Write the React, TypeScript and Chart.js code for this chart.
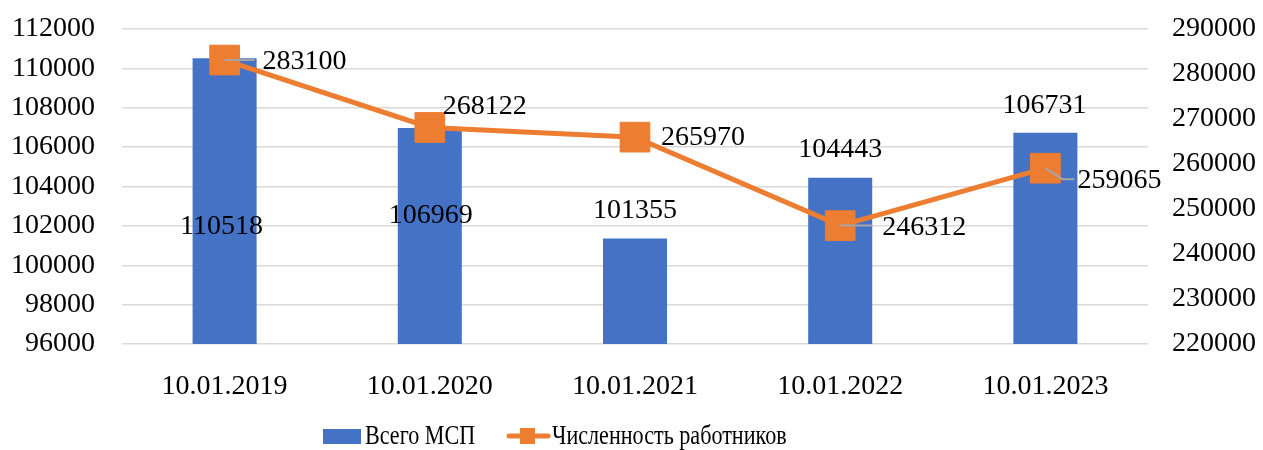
import React, { useEffect, useRef } from 'react';
import { Chart, registerables } from 'chart.js';

Chart.register(...registerables);

// ---- data ----
const categories = ['10.01.2019', '10.01.2020', '10.01.2021', '10.01.2022', '10.01.2023'];
const smeTotal = [110518, 106969, 101355, 104443, 106731];
const employees = [283100, 268122, 265970, 246312, 259065];
const leftTicks = [96000, 98000, 100000, 102000, 104000, 106000, 108000, 110000, 112000];
const rightTicks = [220000, 230000, 240000, 250000, 260000, 270000, 280000, 290000];
const seriesNames = ['Всего МСП', 'Численность работников'];

// ---- label placement (pixel offsets relative to the mark) ----
const barLabelOffsets = [[-3, 168], [1, 88], [0, -28], [0, -28], [-1, -27]];
const lineLabelOffsets = [[38, 2], [13, -21], [26, 1], [42, 2], [32, 12]];
const leaderPaths: (number[][] | null)[] = [
  [[0, 0], [30, 0]],
  null,
  null,
  [[0, 0], [32, 0]],
  [[0, 0], [17, 11], [29, 11]],
];

const FONT = "'Liberation Serif', 'Times New Roman', serif";
const BLUE = '#4472C4';
const ORANGE = '#ED7D31';
const GRID = '#d9d9d9';

const labelPlugin = {
  id: 'customLabels',
  afterDatasetsDraw(chart: any) {
    const ctx = chart.ctx;
    ctx.save();
    ctx.font = `28px ${FONT}`;
    ctx.fillStyle = '#000';
    ctx.textBaseline = 'middle';
    const barMeta = chart.getDatasetMeta(0);
    ctx.textAlign = 'center';
    barMeta.data.forEach((el: any, i: number) => {
      const [dx, dy] = barLabelOffsets[i];
      ctx.fillText(String(smeTotal[i]), el.x + dx, el.y + dy);
    });
    const lineMeta = chart.getDatasetMeta(1);
    ctx.strokeStyle = '#a5a5a5';
    ctx.lineWidth = 2;
    lineMeta.data.forEach((el: any, i: number) => {
      const path = leaderPaths[i];
      if (!path) return;
      ctx.beginPath();
      path.forEach(([px, py], k) => {
        if (k === 0) ctx.moveTo(el.x + px, el.y + py);
        else ctx.lineTo(el.x + px, el.y + py);
      });
      ctx.stroke();
    });
    ctx.textAlign = 'left';
    lineMeta.data.forEach((el: any, i: number) => {
      const [dx, dy] = lineLabelOffsets[i];
      ctx.fillText(String(employees[i]), el.x + dx, el.y + dy);
    });
    ctx.restore();
  },
};

const legendPlugin = {
  id: 'customLegend',
  afterDraw(chart: any) {
    const ctx = chart.ctx;
    const cy = 437;
    ctx.save();
    let x = 323;
    ctx.fillStyle = BLUE;
    ctx.fillRect(x, cy - 8, 38, 15);
    x += 42;
    ctx.fillStyle = '#000';
    ctx.font = `28px ${FONT}`;
    ctx.textBaseline = 'middle';
    ctx.textAlign = 'left';
    const sx = 0.79;
    ctx.save();
    ctx.translate(x, cy);
    ctx.scale(sx, 1);
    ctx.fillText(seriesNames[0], 0, 0);
    ctx.restore();
    x = 507;
    ctx.strokeStyle = ORANGE;
    ctx.lineWidth = 5;
    ctx.lineCap = 'round';
    ctx.beginPath();
    ctx.moveTo(x + 2, cy - 1);
    ctx.lineTo(x + 41, cy - 1);
    ctx.stroke();
    ctx.fillStyle = ORANGE;
    ctx.fillRect(x + 13, cy - 9, 15, 16);
    x = 552;
    ctx.fillStyle = '#000';
    ctx.save();
    ctx.translate(x, cy);
    ctx.scale(sx, 1);
    ctx.fillText(seriesNames[1], 0, 0);
    ctx.restore();
    ctx.restore();
  },
};

export default function App() {
  const ref = useRef<HTMLCanvasElement | null>(null);
  useEffect(() => {
    if (!ref.current) return;
    const chart = new Chart(ref.current, {
      type: 'bar',
      data: {
        labels: categories,
        datasets: [
          {
            type: 'bar',
            label: seriesNames[0],
            data: smeTotal,
            backgroundColor: BLUE,
            borderWidth: 0,
            barPercentage: 0.312,
            categoryPercentage: 1,
            yAxisID: 'y',
            order: 2,
          },
          {
            type: 'line',
            label: seriesNames[1],
            data: employees,
            borderColor: ORANGE,
            backgroundColor: ORANGE,
            borderWidth: 5,
            pointStyle: 'rect',
            pointRadius: 21,
            pointBorderWidth: 1,
            pointBackgroundColor: ORANGE,
            pointBorderColor: ORANGE,
            tension: 0,
            yAxisID: 'y2',
            order: 1,
          } as any,
        ],
      },
      options: {
        animation: false,
        responsive: true,
        maintainAspectRatio: false,
        layout: { padding: { top: 29, left: 0, right: 0, bottom: 0 } },
        plugins: {
          legend: { display: false },
          tooltip: { enabled: false },
        },
        scales: {
          x: {
            grid: { display: false },
            border: { display: false },
            ticks: {
              color: '#000',
              font: { family: FONT, size: 28 },
              padding: 18,
              maxRotation: 0,
              autoSkip: false,
            },
            afterFit: (s: any) => {
              s.height = 106;
            },
          },
          y: {
            position: 'left',
            min: leftTicks[0],
            max: leftTicks[leftTicks.length - 1],
            afterBuildTicks: (s: any) => {
              s.ticks = leftTicks.map((v) => ({ value: v }));
            },
            grid: { color: GRID, lineWidth: 1.5, drawTicks: false },
            border: { display: false },
            ticks: {
              color: '#000',
              font: { family: FONT, size: 28 },
              padding: 27,
              callback: (v: any) => String(v),
            },
            afterFit: (s: any) => {
              s.width = 122;
              s.paddingTop = 0;
              s.paddingBottom = 0;
            },
          },
          y2: {
            position: 'right',
            min: rightTicks[0],
            max: rightTicks[rightTicks.length - 1],
            afterBuildTicks: (s: any) => {
              s.ticks = rightTicks.map((v) => ({ value: v }));
            },
            grid: { drawOnChartArea: false, drawTicks: false },
            border: { display: false },
            ticks: {
              color: '#000',
              font: { family: FONT, size: 28 },
              padding: 24,
              callback: (v: any) => String(v),
            },
            afterFit: (s: any) => {
              s.width = 115;
              s.paddingTop = 0;
              s.paddingBottom = 0;
            },
          },
        },
      },
      plugins: [labelPlugin, legendPlugin],
    });
    return () => chart.destroy();
  }, []);
  return (
    <div style={{ position: 'fixed', left: 0, top: 0, width: 1263, height: 450 }}>
      <canvas ref={ref} />
    </div>
  );
}
